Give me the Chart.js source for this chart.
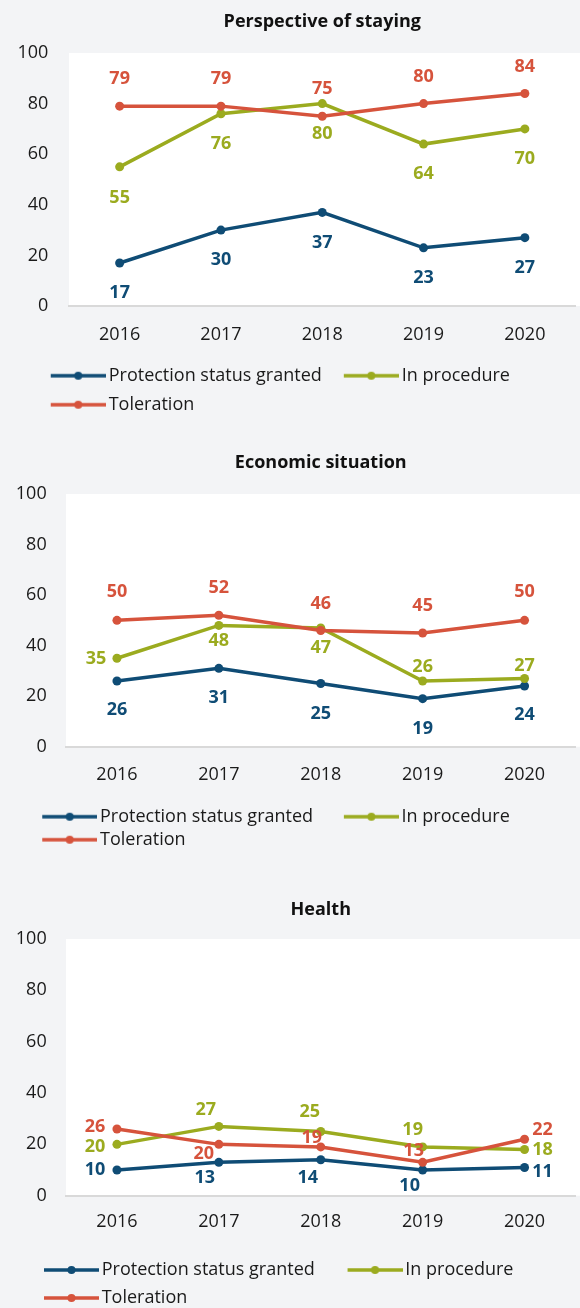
<!DOCTYPE html>
<html>
<head>
<meta charset="utf-8">
<script src="https://cdn.jsdelivr.net/npm/chart.js@4.4.1/dist/chart.umd.min.js"></script>
<style>
  html, body { margin: 0; padding: 0; background: #f3f4f6; overflow: hidden; }
  .panel { width: 580px; height: 440px; }
  canvas { display: block; }
</style>
</head>
<body>
<div class="panel"><canvas id="staying" width="580" height="440"></canvas></div>
<div class="panel"><canvas id="economy" width="580" height="440"></canvas></div>
<div class="panel"><canvas id="health" width="580" height="440"></canvas></div>
<script>
// ---- data -------------------------------------------------------------
const years = ['2016', '2017', '2018', '2019', '2020'];
const seriesNames = ['Protection status granted', 'In procedure', 'Toleration'];
const yTicks = [0, 20, 40, 60, 80, 100];

const stayingProtection = [17, 30, 37, 23, 27];
const stayingProcedure  = [55, 76, 80, 64, 70];
const stayingToleration = [79, 79, 75, 80, 84];

const economyProtection = [26, 31, 25, 19, 24];
const economyProcedure  = [35, 48, 47, 26, 27];
const economyToleration = [50, 52, 46, 45, 50];

const healthProtection = [10, 13, 14, 10, 11];
const healthProcedure  = [20, 27, 25, 19, 18];
const healthToleration = [26, 20, 19, 13, 22];

// ---- styling ----------------------------------------------------------
const FONT = '"Open Sans"';
const TEXT = '#1a1a1a';
const COLORS = ['#0f4c75', '#9bab1f', '#d6533c'];

// value-label offsets (dx, dy) from each point, per series
const A = [0, -27], B = [0, 30];
const stayingLabelOffsets = [
  [B, B, B, B, B],
  [[0, 31], B, B, B, B],
  [A, A, A, A, A]
];
const economyLabelOffsets = [
  [[0, 29], B, B, B, [0, 29]],
  [[-21, 1], [0, 15], [0, 20], [0, -14], [0, -13]],
  [[0, -28], A, A, A, [0, -28]]
];
const healthLabelOffsets = [
  [[-22, 0], [-14, 16], [-13, 18], [-13, 16], [18, 4]],
  [[-22, 3], [-13, -17], [-11, -20], [-10, -17], [18, 0]],
  [[-22, -2], [-15, 10], [-9, -9], [-9, -11], [18, -9]]
];

// white plot panel, running to the right edge of the canvas
const plotBackground = {
  id: 'plotBackground',
  beforeDraw(chart) {
    const { ctx, chartArea: a } = chart;
    ctx.save();
    ctx.fillStyle = '#ffffff';
    ctx.fillRect(a.left, a.top, chart.width - a.left, a.bottom - a.top);
    ctx.restore();
  }
};

// horizontal start of the legend block
const legendPlacement = {
  id: 'legendPlacement',
  afterLayout(chart, args, opts) {
    if (chart.legend) chart.legend.left = opts.left;
  }
};

// numbers printed next to every point
const valueLabels = {
  id: 'valueLabels',
  afterDatasetsDraw(chart, args, opts) {
    const ctx = chart.ctx;
    ctx.save();
    ctx.font = 'bold 18px ' + FONT;
    ctx.textAlign = 'center';
    ctx.textBaseline = 'middle';
    chart.data.datasets.forEach((ds, i) => {
      const meta = chart.getDatasetMeta(i);
      meta.data.forEach((pt, j) => {
        const off = opts.offsets[i][j];
        ctx.fillStyle = ds.borderColor;
        ctx.fillText(String(ds.data[j]), pt.x + off[0], pt.y + off[1]);
      });
    });
    ctx.restore();
  }
};

// legend key: a short line with a dot in the middle; `lead` is empty space on its left
function legendSwatch(color, lead) {
  const w = Math.round(lead + 61), h = 12;
  const c = document.createElement('canvas');
  c.width = w; c.height = h;
  const g = c.getContext('2d');
  const x0 = w - 55;
  g.strokeStyle = color;
  g.lineWidth = 3.5;
  g.beginPath(); g.moveTo(x0, h / 2); g.lineTo(w, h / 2); g.stroke();
  g.fillStyle = color;
  g.beginPath(); g.arc(x0 + 27.5, h / 2, 4, 0, Math.PI * 2); g.fill();
  return c;
}

function makeChart(id, title, values, offsets, L) {
  const swatches = COLORS.map(c => legendSwatch(c, L.lead));
  const datasets = values.map((v, i) => ({
    label: seriesNames[i],
    data: v,
    borderColor: COLORS[i],
    backgroundColor: COLORS[i],
    pointBackgroundColor: COLORS[i],
    borderWidth: 3.5,
    pointRadius: 4.5,
    pointBorderWidth: 0,
    tension: 0,
    order: 3 - i
  }));
  return new Chart(document.getElementById(id), {
    type: 'line',
    data: { labels: years, datasets },
    plugins: [plotBackground, legendPlacement, valueLabels],
    options: {
      responsive: false,
      animation: false,
      devicePixelRatio: 1,
      layout: { padding: { left: 0, right: L.right, top: 0, bottom: L.bottom } },
      scales: {
        x: {
          type: 'category',
          offset: true,
          grid: { display: false, drawTicks: false },
          border: { display: true, color: '#d9d9d9', width: 2 },
          ticks: { color: TEXT, font: { family: FONT, size: 18 }, padding: L.xPad, maxRotation: 0 },
          afterFit(s) { s.height = L.xHeight; }
        },
        y: {
          min: 0,
          max: 100,
          grid: { display: false, drawTicks: false },
          border: { display: false },
          ticks: { color: TEXT, font: { family: FONT, size: 18 }, padding: L.yPad },
          afterBuildTicks(s) { s.ticks = yTicks.map(v => ({ value: v })); },
          afterFit(s) { s.width = L.plotLeft; }
        }
      },
      plugins: {
        title: {
          display: true,
          text: title,
          fullSize: false,
          color: '#111111',
          font: { family: FONT, size: 18, weight: 'bold' },
          padding: { top: L.titleTop, bottom: L.titleBottom }
        },
        legend: {
          position: 'bottom',
          align: 'start',
          labels: {
            usePointStyle: true,
            pointStyleWidth: L.lead + 49,
            padding: L.gap,
            color: TEXT,
            font: { family: FONT, size: 18 },
            sort: (a, b) => a.datasetIndex - b.datasetIndex,
            generateLabels(chart) {
              return Chart.defaults.plugins.legend.labels.generateLabels(chart)
                .map(item => Object.assign(item, { pointStyle: swatches[item.datasetIndex] }));
            }
          }
        },
        legendPlacement: { left: L.legendLeft },
        tooltip: { enabled: false },
        valueLabels: { offsets }
      }
    }
  });
}

makeChart('staying', 'Perspective of staying',
  [stayingProtection, stayingProcedure, stayingToleration], stayingLabelOffsets,
  { legendLeft: 28.7, right: 1, bottom: 16.3, plotLeft: 69, yPad: 20.7, xPad: 18.2, xHeight: 49.7,
    titleTop: 11.2, titleBottom: 20.2, gap: 11, lead: 11 });

makeChart('economy', 'Economic situation',
  [economyProtection, economyProcedure, economyToleration], economyLabelOffsets,
  { legendLeft: 11.5, right: 1.5, bottom: 21.3, plotLeft: 66, yPad: 19.3, xPad: 17.5, xHeight: 56,
    titleTop: 11.7, titleBottom: 20.7, gap: 5, lead: 25.5 });

makeChart('health', 'Health',
  [healthProtection, healthProcedure, healthToleration], healthLabelOffsets,
  { legendLeft: 11.2, right: 1.5, bottom: 3, plotLeft: 66, yPad: 19.3, xPad: 15.2, xHeight: 55.3,
    titleTop: 19.2, titleBottom: 18.2, gap: 10, lead: 22.5 });
</script>
</body>
</html>
